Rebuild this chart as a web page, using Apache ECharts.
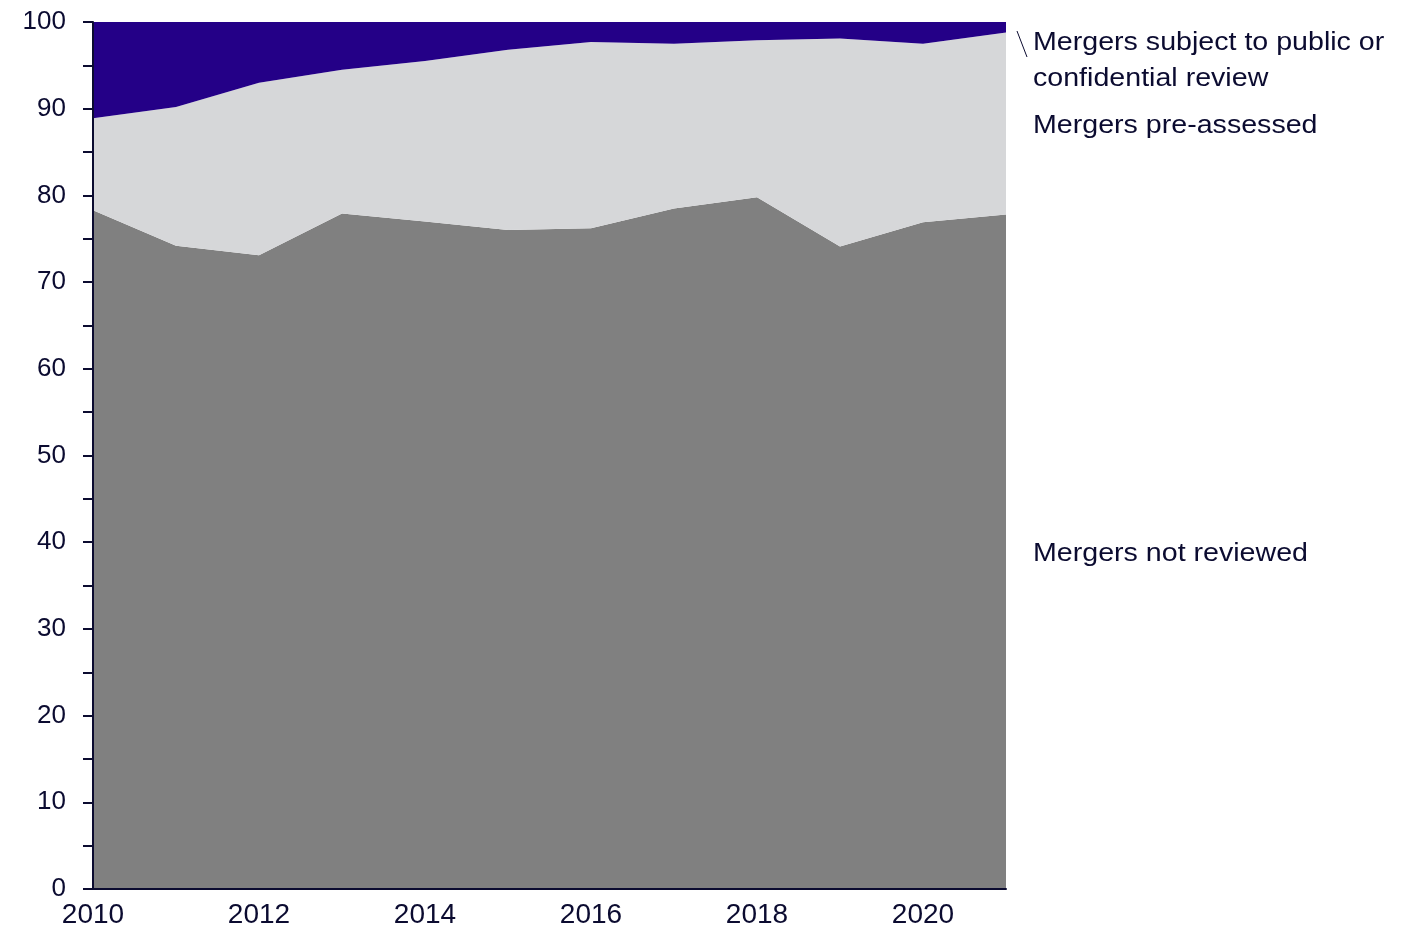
<!DOCTYPE html>
<html>
<head>
<meta charset="utf-8">
<script src="https://cdn.jsdelivr.net/npm/echarts@6/dist/echarts.min.js"></script>
<style>
  html, body { margin: 0; padding: 0; background: #fff; }
  #chart { width: 1419px; height: 930px; }
</style>
</head>
<body>
<div id="chart"></div>
<script>
  // data (per cent of mergers)
  var years = ['2010', '2011', '2012', '2013', '2014', '2015', '2016', '2017', '2018', '2019', '2020', '2021']
  var notReviewed = [78.3, 74.2, 73.1, 77.9, 77.0, 76.0, 76.2, 78.5, 79.8, 74.1, 76.9, 77.8]
  var preAssessed = [10.6, 16.0, 19.9, 16.6, 18.5, 20.8, 21.5, 19.0, 18.1, 24.0, 20.6, 21.0]
  var subjectToReview = [11.1, 9.8, 7.0, 5.5, 4.5, 3.2, 2.3, 2.5, 2.1, 1.9, 2.5, 1.2]

  var textColor = '#0b0b30'
  var fontFamily = '"Liberation Sans", Arial, sans-serif'

  var myChart = echarts.init(document.getElementById('chart'))

  function areaSeries(name, data, color) {
    return {
      name: name,
      type: 'line',
      stack: 'total',
      symbol: 'none',
      lineStyle: { width: 0 },
      areaStyle: { color: color, opacity: 1 },
      data: data
    }
  }

  // labels on the right, slightly stretched like the original
  function sideLabel(text, top) {
    return {
      type: 'text',
      x: 1033,
      y: top,
      scaleX: 1.1,
      style: {
        text: text,
        fill: textColor,
        font: '26px ' + fontFamily,
        lineHeight: 36,
        verticalAlign: 'top'
      }
    }
  }

  myChart.setOption({
    animation: false,
    grid: { left: 93, right: 413, top: 22, bottom: 41 },
    xAxis: {
      type: 'category',
      boundaryGap: false,
      data: years,
      axisTick: { show: false },
      axisLine: { lineStyle: { color: textColor, width: 2 } },
      axisLabel: {
        interval: 1,
        margin: 12,
        color: textColor,
        fontSize: 28,
        fontFamily: fontFamily
      },
      z: 10
    },
    yAxis: {
      type: 'value',
      min: 0,
      max: 100,
      interval: 5,
      splitLine: { show: false },
      axisLine: { show: true, lineStyle: { color: textColor, width: 2 } },
      axisTick: { show: true, length: 10, lineStyle: { color: textColor, width: 2 } },
      axisLabel: {
        margin: 27,
        color: textColor,
        fontSize: 26,
        fontFamily: fontFamily,
        formatter: function (v) { return v % 10 === 0 ? String(v) : '' }
      },
      z: 10
    },
    series: [
      areaSeries('Mergers not reviewed', notReviewed, '#808080'),
      areaSeries('Mergers pre-assessed', preAssessed, '#d6d7d9'),
      areaSeries('Mergers subject to public or confidential review', subjectToReview, '#240087')
    ],
    graphic: [
      {
        type: 'line',
        shape: { x1: 1017, y1: 31, x2: 1027, y2: 57 },
        style: { stroke: textColor, lineWidth: 1 }
      },
      sideLabel('Mergers subject to public or\nconfidential review', 25),
      sideLabel('Mergers pre-assessed', 108),
      sideLabel('Mergers not reviewed', 536)
    ]
  })
</script>
</body>
</html>
